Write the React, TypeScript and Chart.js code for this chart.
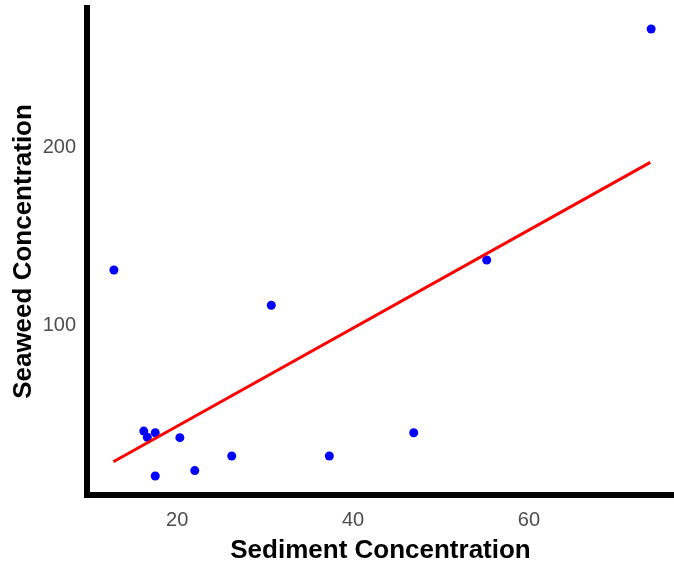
import React, { useEffect, useRef } from "react";
import { Chart, registerables } from "chart.js";

Chart.register(...registerables);

const sediment = [12.8, 30.7, 16.2, 16.6, 17.5, 20.3, 26.2, 22.0, 17.5, 37.3, 46.9, 55.2, 73.9];
const seaweed = [130.9, 111.1, 40.4, 36.9, 39.5, 36.7, 26.4, 18.2, 15.2, 26.4, 39.5, 136.5, 266.3];
const fitX = [12.74, 73.8];
const fitY = [23.2, 191.4];
const xTicks = [20, 40, 60];
const yTicks = [100, 200];
const xTitle = "Sediment Concentration";
const yTitle = "Seaweed Concentration";

export default function App() {
  const ref = useRef<HTMLCanvasElement>(null);
  useEffect(() => {
    if (!ref.current) return;
    const chart = new Chart(ref.current, {
      type: "scatter",
      data: {
        datasets: [
          {
            type: "line",
            data: fitX.map((x, i) => ({ x, y: fitY[i] })),
            borderColor: "#ff0000",
            borderWidth: 3,
            pointRadius: 0,
            fill: false,
          },
          {
            type: "scatter",
            data: sediment.map((x, i) => ({ x, y: seaweed[i] })),
            backgroundColor: "#0000ff",
            borderColor: "#0000ff",
            borderWidth: 0,
            pointRadius: 4.5,
          },
        ],
      },
      options: {
        responsive: false,
        animation: false,
        layout: { autoPadding: false, padding: { top: 8, right: 0, bottom: 0, left: 0 } },
        plugins: { legend: { display: false }, tooltip: { enabled: false } },
        scales: {
          x: {
            type: "linear",
            min: 9.74,
            max: 76.5,
            afterBuildTicks: (s: any) => {
              s.ticks = xTicks.map((v) => ({ value: v }));
            },
            afterFit: (s: any) => {
              s.height = 72;
              s.paddingLeft = 0;
              s.paddingRight = 0;
            },
            grid: { display: false, drawTicks: false },
            border: { display: true, color: "#000", width: 6 },
            ticks: {
              color: "#4d4d4d",
              padding: 13,
              font: { family: "Liberation Sans", size: 20 },
              maxRotation: 0,
            },
            title: {
              display: true,
              text: xTitle,
              color: "#000",
              font: { family: "Liberation Sans", size: 26, weight: "bold", lineHeight: 1.2 },
              padding: { top: 0, bottom: 1 },
            },
          },
          y: {
            type: "linear",
            min: 4.5,
            max: 278.1,
            afterBuildTicks: (s: any) => {
              s.ticks = yTicks.map((v) => ({ value: v }));
            },
            afterFit: (s: any) => {
              s.width = 87;
              s.paddingTop = 0;
              s.paddingBottom = 0;
            },
            grid: { display: false, drawTicks: false },
            border: { display: true, color: "#000", width: 6 },
            ticks: {
              color: "#4d4d4d",
              padding: 11,
              font: { family: "Liberation Sans", size: 20 },
            },
            title: {
              display: true,
              text: yTitle,
              color: "#000",
              font: { family: "Liberation Sans", size: 26, weight: "bold", lineHeight: 1.2 },
              padding: { top: 8, bottom: 0 },
            },
          },
        },
      },
    } as any);
    return () => chart.destroy();
  }, []);
  return (
    <div style={{ position: "fixed", left: 0, top: 0, width: 674, height: 567, background: "#fff" }}>
      <canvas ref={ref} width={674} height={567} style={{ display: "block" }} />
    </div>
  );
}
